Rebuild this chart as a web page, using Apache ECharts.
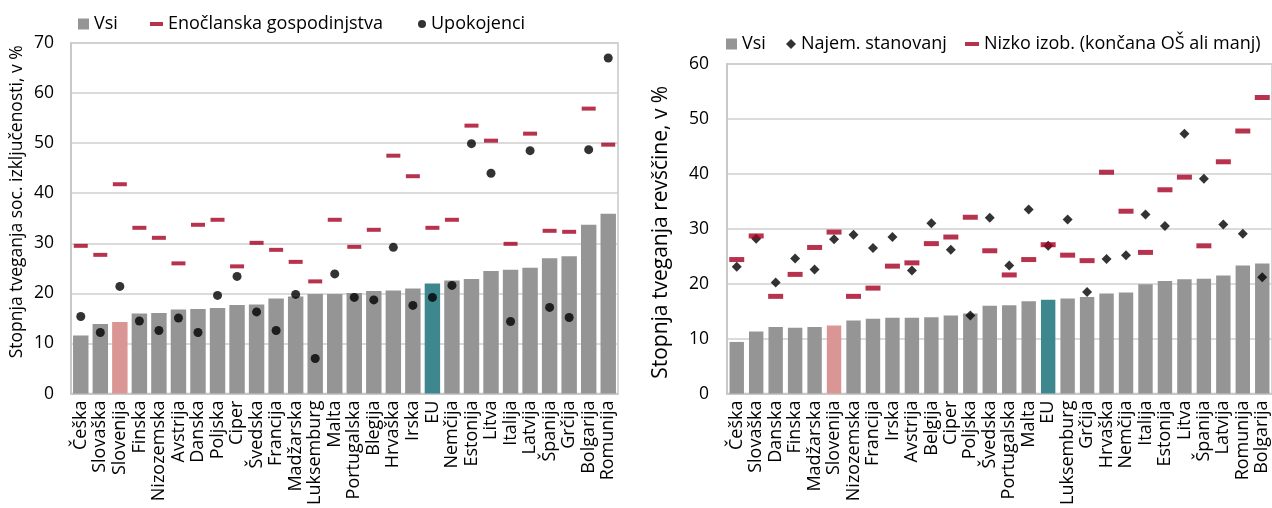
<!DOCTYPE html>
<html>
<head>
<meta charset="utf-8">
<script src="https://cdn.jsdelivr.net/npm/echarts@6/dist/echarts.min.js"></script>
<style>
html,body{margin:0;padding:0;background:#fff;}
#c{width:1272px;height:508px;}
</style>
</head>
<body>
<div id="c"></div>
<script>
const leftCategories = ['Češka','Slovaška','Slovenija','Finska','Nizozemska','Avstrija','Danska','Poljska','Ciper','Švedska','Francija','Madžarska','Luksemburg','Malta','Portugalska','Blegija','Hrvaška','Irska','EU','Nemčija','Estonija','Litva','Italija','Latvija','Španija','Grčija','Bolgarija','Romunija'];
const leftVsi = [11.6,13.9,14.3,16.0,16.1,16.8,16.9,17.1,17.7,17.8,19.0,19.4,19.9,19.9,20.1,20.5,20.6,21.0,22.0,22.6,22.9,24.5,24.7,25.1,27.0,27.4,33.7,35.9];
const leftSingle = [29.5,27.7,41.8,33.1,31.1,26.0,33.7,34.7,25.4,30.1,28.7,26.3,22.4,34.7,29.3,32.7,47.5,43.4,33.1,34.7,53.5,50.5,29.9,51.9,32.5,32.3,56.9,49.7];
const leftRetired = [15.4,12.2,21.4,14.5,12.6,15.1,12.2,19.6,23.4,16.3,12.6,19.8,7.0,23.9,19.2,18.7,29.2,17.6,19.2,21.6,49.9,44.0,14.4,48.5,17.2,15.2,48.7,67.0];

const rightCategories = ['Češka','Slovaška','Danska','Finska','Madžarska','Slovenija','Nizozemska','Francija','Irska','Avstrija','Belgija','Ciper','Poljska','Švedska','Portugalska','Malta','EU','Luksemburg','Grčija','Hrvaška','Nemčija','Italija','Estonija','Litva','Španija','Latvija','Romunija','Bolgarija'];
const rightVsi = [9.4,11.3,12.1,12.0,12.1,12.4,13.3,13.6,13.8,13.8,13.9,14.2,14.6,16.0,16.1,16.8,17.1,17.3,17.6,18.2,18.4,19.9,20.5,20.8,20.9,21.5,23.3,23.7];
const rightRent = [23.1,28.2,20.2,24.6,22.6,28.1,28.9,26.5,28.5,22.4,31.0,26.2,14.2,32.0,23.3,33.5,26.9,31.7,18.5,24.5,25.2,32.6,30.5,47.3,39.1,30.8,29.1,21.2];
const rightLowEdu = [24.4,28.7,17.7,21.7,26.6,29.4,17.7,19.2,23.2,23.8,27.3,28.5,32.1,26.0,21.6,24.4,27.1,25.2,24.2,40.3,33.2,25.7,37.1,39.4,26.9,42.2,47.8,53.9];

const leftTitle = 'Stopnja tveganja soc. izključenosti, v %';
const rightTitle = 'Stopnja tveganja revščine, v %';

const GRAY = '#959595', PINK = '#DA9694', TEAL = '#3E878E', RED = '#A50021', BLACK = '#000';
const FONT = 'Open Sans';
const FS = 17.5;
const FS_CAT = 18;
const FS_LEG = 18;

function barData(cats, vals) {
  return vals.map((v, i) => {
    const c = cats[i] === 'Slovenija' ? PINK : (cats[i] === 'EU' ? TEAL : GRAY);
    return { value: v, itemStyle: { color: c } };
  });
}

const chart = echarts.init(document.getElementById('c'), null, { renderer: 'canvas' });

const axisLabelCat = { rotate: 90, interval: 0, fontSize: FS_CAT, color: '#000', fontFamily: FONT, margin: 7 };
const legendText = { fontSize: FS_LEG, color: '#000', fontFamily: FONT };

chart.setOption({
  animation: false,
  textStyle: { fontFamily: FONT },
  grid: [
    { left: 71, top: 43, width: 547, height: 353, show: true, borderColor: '#c8c8c8', borderWidth: 1.5, containLabel: false },
    { left: 727, top: 64, width: 550, height: 336, show: true, borderColor: '#c8c8c8', borderWidth: 1.5, containLabel: false }
  ],
  legend: [
    { left: 73, top: 10, itemWidth: 11, itemHeight: 11, textStyle: legendText, data: [{ name: 'Vsi', icon: 'rect' }] },
    { left: 145, top: 10, itemWidth: 13, itemHeight: 4, textStyle: legendText, data: [{ name: 'Enočlanska gospodinjstva', icon: 'rect' }] },
    { left: 413, top: 10, itemWidth: 8, itemHeight: 8, textStyle: legendText, data: [{ name: 'Upokojenci', icon: 'circle' }] },
    { left: 721, top: 30, itemWidth: 11, itemHeight: 11, textStyle: legendText, data: [{ name: 'Vsi ', icon: 'rect' }] },
    { left: 781, top: 30, itemWidth: 10, itemHeight: 10, textStyle: legendText, data: [{ name: 'Najem. stanovanj', icon: 'diamond' }] },
    { left: 960, top: 30, itemWidth: 14, itemHeight: 4, textStyle: legendText, data: [{ name: 'Nizko izob. (končana OŠ ali manj)', icon: 'rect' }] }
  ],
  xAxis: [
    { type: 'category', gridIndex: 0, data: leftCategories, axisTick: { show: false },
      axisLine: { lineStyle: { color: '#c8c8c8', width: 2 } }, axisLabel: axisLabelCat },
    { type: 'category', gridIndex: 1, data: rightCategories, axisTick: { show: false },
      axisLine: { lineStyle: { color: '#c8c8c8', width: 2 } }, axisLabel: axisLabelCat }
  ],
  yAxis: [
    { type: 'value', gridIndex: 0, min: 0, max: 70, interval: 10,
      axisLine: { show: true, lineStyle: { color: '#c8c8c8', width: 2 } },
      splitLine: { lineStyle: { color: '#cfcfcf', width: 1.5 } },
      axisLabel: { fontSize: FS, color: '#000', fontFamily: FONT, margin: 17 },
      name: leftTitle, nameLocation: 'middle', nameGap: 45,
      nameTextStyle: { fontSize: 17.5, color: '#000', fontFamily: FONT, padding: [0, 0, 0, 33] } },
    { type: 'value', gridIndex: 1, min: 0, max: 60, interval: 10,
      axisLine: { show: true, lineStyle: { color: '#c8c8c8', width: 2 } },
      splitLine: { lineStyle: { color: '#cfcfcf', width: 1.5 } },
      axisLabel: { fontSize: FS, color: '#000', fontFamily: FONT, margin: 18 },
      name: rightTitle, nameLocation: 'middle', nameGap: 55,
      nameTextStyle: { fontSize: 21, color: '#000', fontFamily: FONT, padding: [0, 7, 0, 0] } }
  ],
  series: [
    { name: 'Vsi', type: 'bar', xAxisIndex: 0, yAxisIndex: 0, barWidth: '79%', itemStyle: { color: GRAY },
      data: barData(leftCategories, leftVsi), z: 1 },
    { name: 'Enočlanska gospodinjstva', type: 'scatter', xAxisIndex: 0, yAxisIndex: 0, symbol: 'rect', symbolSize: [14, 4],
      itemStyle: { color: RED }, data: leftSingle, z: 3 },
    { name: 'Upokojenci', type: 'scatter', xAxisIndex: 0, yAxisIndex: 0, symbol: 'circle', symbolSize: 9,
      itemStyle: { color: BLACK }, data: leftRetired, z: 4 },
    { name: 'Vsi ', type: 'bar', xAxisIndex: 1, yAxisIndex: 1, barWidth: '74%', itemStyle: { color: GRAY },
      data: barData(rightCategories, rightVsi), z: 1 },
    { name: 'Najem. stanovanj', type: 'scatter', xAxisIndex: 1, yAxisIndex: 1, symbol: 'diamond', symbolSize: 10,
      itemStyle: { color: BLACK }, data: rightRent, z: 3 },
    { name: 'Nizko izob. (končana OŠ ali manj)', type: 'scatter', xAxisIndex: 1, yAxisIndex: 1, symbol: 'rect', symbolSize: [15, 5],
      itemStyle: { color: RED }, data: rightLowEdu, z: 4 }
  ]
});
</script>
</body>
</html>
